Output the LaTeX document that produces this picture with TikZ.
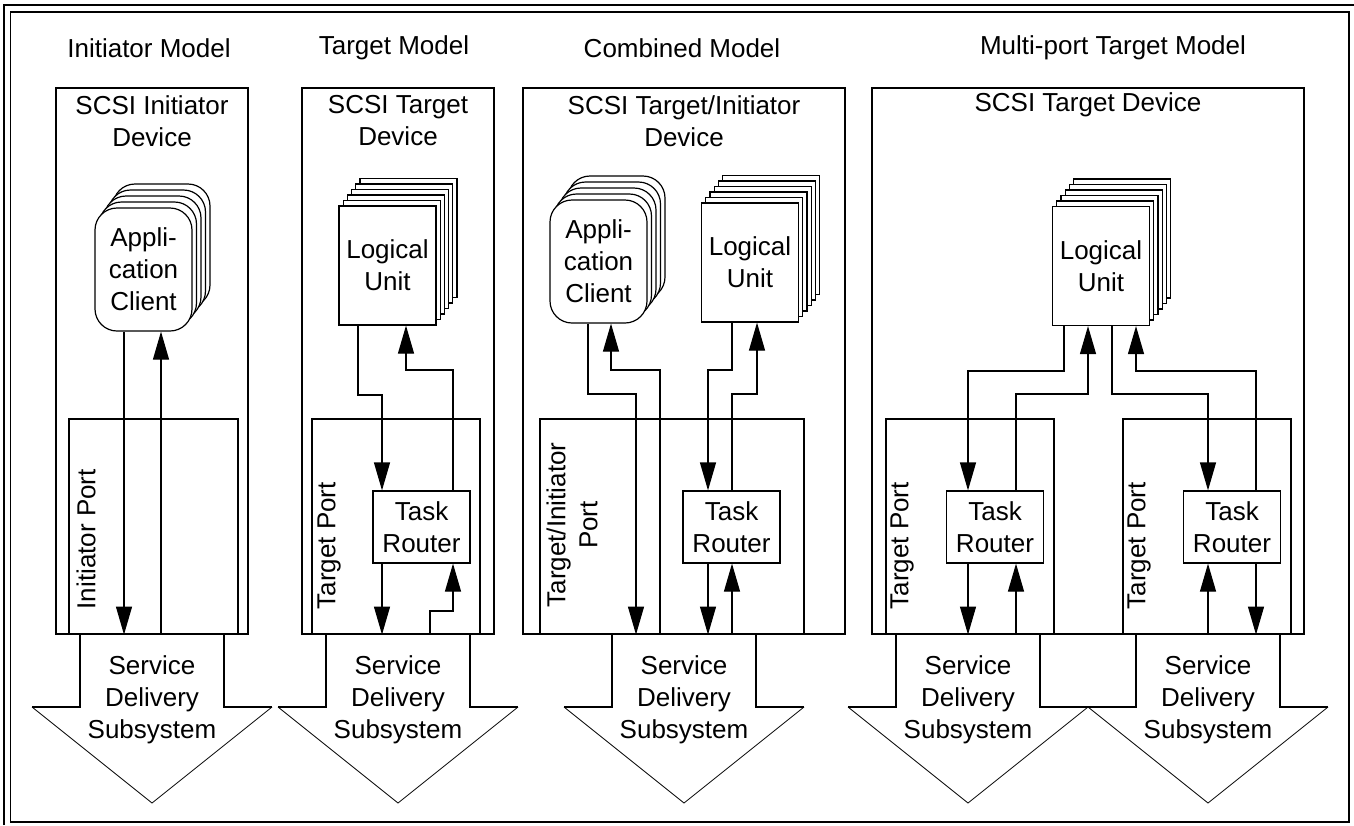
\documentclass[tikz,border=0pt]{standalone}
\usepackage{fontspec}
\setmainfont{Liberation Sans}
\usetikzlibrary{arrows.meta}

\tikzset{every picture/.style={line width=1.2pt}}
\tikzset{
  txt/.style={font=\fontsize{26}{32}\selectfont, align=center, inner sep=0pt},
  devbox/.style={draw, minimum height=546pt, inner sep=0pt},
  portbox/.style={draw, minimum height=215pt, inner sep=0pt},
  lubox/.style={draw, fill=white, minimum width=97pt, minimum height=119pt, inner sep=0pt, txt},
  acbox/.style={draw, fill=white, rounded corners=22pt, minimum width=97pt, minimum height=123pt, inner sep=0pt, txt},
  trbox/.style={draw, fill=white, minimum width=97pt, minimum height=72pt, inner sep=0pt, txt},
  portlabel/.style={txt, rotate=90, anchor=west},
  flow/.style={-{Triangle[length=28pt,width=16pt]}},
}

\begin{document}
\begin{tikzpicture}[x=1pt,y=1pt,yscale=-1]
\useasboundingbox (0,0) rectangle (1354,825);

%Shape: Frame
\draw [line width=1.5pt] (4,825) -- (4,5) -- (1354,5) ;
\draw [line width=1.5pt] (10.5,12) rectangle (1349,822) ;

% Text Node
\node [txt] (tInit) at (149,48) {Initiator Model};
\node [txt] (tTarg) at (394,48) {Target Model};
\node [txt] (tComb) at (682,48) {Combined Model};
\node [txt] (tMult) at (1113,48) {Multi-port Target Model};

%Shape: Device boxes
\node [devbox, minimum width=192pt] (devI) at (152,361) {};
\node [devbox, minimum width=192pt] (devT) at (398,361) {};
\node [devbox, minimum width=322pt] (devC) at (684,361) {};
\node [devbox, minimum width=432pt] (devM) at (1088,361) {};

% Text Node
\node [txt] (nameI) at (152,121) {SCSI Initiator\\Device};
\node [txt] (nameT) at (398,121) {SCSI Target\\Device};
\node [txt] (nameC) at (684,121) {SCSI Target/Initiator\\Device};
\node [txt] (nameM) at (1088,105) {SCSI Target Device};

%Shape: Port boxes
\node [portbox, minimum width=169pt] (portI) at (153.5,526.5) {};
\node [portbox, minimum width=168pt] (portT) at (396,526.5) {};
\node [portbox, minimum width=264pt] (portC) at (672,526.5) {};
\node [portbox, minimum width=168pt] (portL) at (970,526.5) {};
\node [portbox, minimum width=168pt] (portR) at (1207,526.5) {};

% Text Node
\node [portlabel] (plI) at (86,610) {Initiator Port};
\node [portlabel] (plT) at (329,610) {Target Port};
\node [portlabel] (plC) at (572,608) {Target/Initiator\\Port};
\node [portlabel] (plL) at (902,610) {Target Port};
\node [portlabel] (plR) at (1139,610) {Target Port};

%Shape: Application client stacks
\foreach \i in {4,...,1}
  \node [acbox] (acI\i) at ({143.5+4.5*\i},{269.5-6*\i}) {};
\node [acbox] (acI) at (143.5,269.5) {Appli-\\cation\\Client};
\foreach \i in {4,...,1}
  \node [acbox] (acC\i) at ({598.5+4.5*\i},{261.5-6*\i}) {};
\node [acbox] (acC) at (598.5,261.5) {Appli-\\cation\\Client};

%Shape: Logical unit stacks
\foreach \i in {5,...,1}
  \node [lubox] (luT\i) at ({387.5+4.2*\i},{265.5-5.5*\i}) {};
\node [lubox] (luT) at (387.5,265.5) {Logical\\Unit};
\foreach \i in {5,...,1}
  \node [lubox] (luC\i) at ({750+4.2*\i},{262.5-5.5*\i}) {};
\node [lubox] (luC) at (750,262.5) {Logical\\Unit};
\foreach \i in {5,...,1}
  \node [lubox] (luM\i) at ({1101+4.2*\i},{266-5.5*\i}) {};
\node [lubox] (luM) at (1101,266) {Logical\\Unit};

%Shape: Task routers
\node [trbox] (trT) at (421.5,527) {Task\\Router};
\node [trbox] (trC) at (731.5,527) {Task\\Router};
\node [trbox] (trL) at (995,527) {Task\\Router};
\node [trbox] (trR) at (1232,527) {Task\\Router};

%Straight Lines: initiator model
\draw [flow] (124,0 |- acI.south) -- (124,0 |- devI.south) ;
\draw [flow] (161,0 |- devI.south) -- (161,0 |- acI.south) ;

%Straight Lines: target model
\draw [flow] (358,0 |- luT.south) -- (358,395) -- (382,395) -- (382,0 |- trT.north) ;
\draw [flow] (453,0 |- trT.north) -- (453,370) -- (406,370) -- (406,0 |- luT.south) ;
\draw [flow] (382,0 |- trT.south) -- (382,0 |- devT.south) ;
\draw [flow] (430,0 |- devT.south) -- (430,611) -- (453,611) -- (453,0 |- trT.south) ;

%Straight Lines: combined model
\draw [flow] (588,0 |- acC.south) -- (588,394) -- (636,394) -- (636,0 |- devC.south) ;
\draw [flow] (660,0 |- devC.south) -- (660,370) -- (611,370) -- (611,0 |- acC.south) ;
\draw [flow] (732,0 |- luC.south) -- (732,370) -- (708,370) -- (708,0 |- trC.north) ;
\draw [flow] (732,0 |- trC.north) -- (732,394) -- (757,394) -- (757,0 |- luC.south) ;
\draw [flow] (708,0 |- trC.south) -- (708,0 |- devC.south) ;
\draw [flow] (732,0 |- devC.south) -- (732,0 |- trC.south) ;

%Straight Lines: multi-port target model
\draw [flow] (1064,0 |- luM.south) -- (1064,371) -- (968,371) -- (968,0 |- trL.north) ;
\draw [flow] (1016,0 |- trL.north) -- (1016,394) -- (1088,394) -- (1088,0 |- luM.south) ;
\draw [flow] (1112,0 |- luM.south) -- (1112,394) -- (1208,394) -- (1208,0 |- trR.north) ;
\draw [flow] (1256,0 |- trR.north) -- (1256,371) -- (1136,371) -- (1136,0 |- luM.south) ;
\draw [flow] (968,0 |- trL.south) -- (968,0 |- devM.south) ;
\draw [flow] (1016,0 |- devM.south) -- (1016,0 |- trL.south) ;
\draw [flow] (1208,0 |- devM.south) -- (1208,0 |- trR.south) ;
\draw [flow] (1256,0 |- trR.south) -- (1256,0 |- devM.south) ;

%Shape: Service delivery subsystem arrows
\foreach \c/\n in {152/I,398/T,684/C,968/L,1208/R}{
  \draw ({\c-72},634) -- ({\c-72},707) -- ({\c-120},707) ;
  \draw [line width=0.8pt] ({\c-120},707) -- (\c,803) -- ({\c+120},707) ;
  \draw ({\c+120},707) -- ({\c+72},707) -- ({\c+72},634) ;
  \node [txt] (sds\n) at (\c,700) {Service\\Delivery\\Subsystem};
}

\end{tikzpicture}
\end{document}
